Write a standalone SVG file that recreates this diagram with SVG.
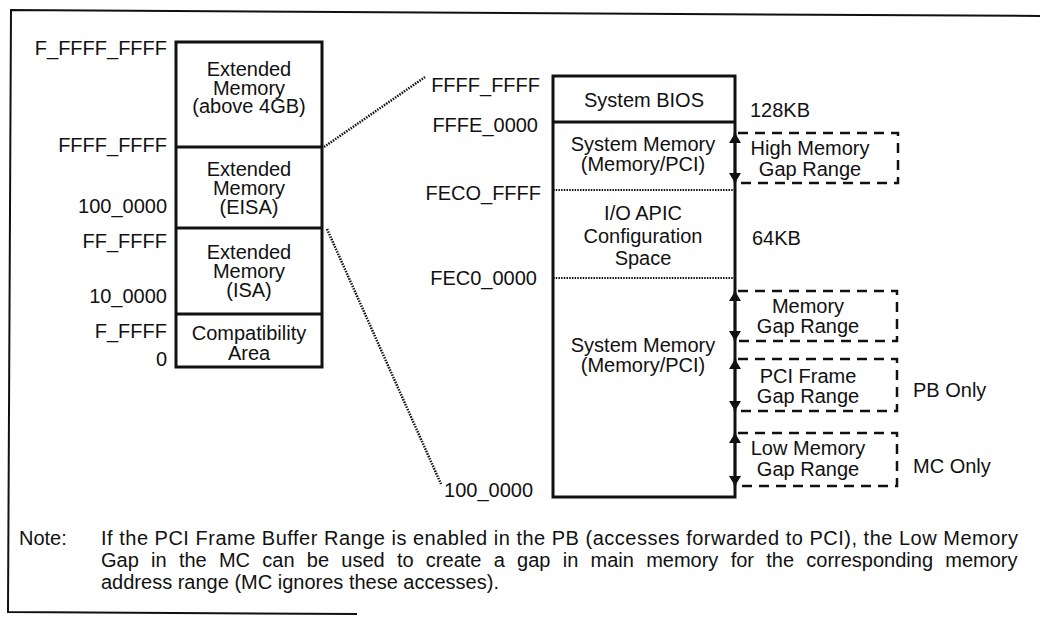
<svg xmlns="http://www.w3.org/2000/svg" width="1040" height="618" viewBox="0 0 1040 618">
<style>
text{font-family:"Liberation Sans",Arial,Helvetica,sans-serif;font-size:20px;fill:#111}
.m{text-anchor:middle}
.e{text-anchor:end}
.box{fill:none;stroke:#111;stroke-width:3}
.dv{stroke:#111;stroke-width:3}
.dot{stroke:#111;stroke-width:2;stroke-dasharray:1.5 1.2;fill:none}
.con{stroke:#111;stroke-width:2.5;stroke-dasharray:1.5 1.2;fill:none}
.dash{fill:none;stroke:#111;stroke-width:2.5;stroke-dasharray:10 7}
.arr{stroke:#111;stroke-width:2.5;marker-start:url(#ah);marker-end:url(#ah)}
.frame{stroke:#111;stroke-width:2;fill:none}
</style>
<defs>
<marker id="ah" viewBox="0 0 10 12" refX="10" refY="6" markerWidth="10" markerHeight="12" orient="auto-start-reverse" markerUnits="userSpaceOnUse">
<path d="M0,0 L10,6 L0,12 z" fill="#111"/>
</marker>
</defs>
<polyline class="frame" points="1040,16 11,10 8,612 357,614"/>

<g id="left-map">
<rect class="box" x="176" y="42" width="146" height="325"/>
<line class="dv" x1="176" y1="147" x2="322" y2="147"/>
<line class="dv" x1="176" y1="228" x2="322" y2="228"/>
<line class="dv" x1="176" y1="314" x2="322" y2="314"/>
</g>
<g id="left-labels">
<text class="e" x="167" y="55">F_FFFF_FFFF</text>
<text class="e" x="167" y="152">FFFF_FFFF</text>
<text class="e" x="167" y="213">100_0000</text>
<text class="e" x="167" y="248">FF_FFFF</text>
<text class="e" x="167" y="303">10_0000</text>
<text class="e" x="167" y="338">F_FFFF</text>
<text class="e" x="167" y="366">0</text>
</g>
<g id="ext-above-4gb">
<text class="m" x="249" y="76">Extended</text>
<text class="m" x="249" y="95">Memory</text>
<text class="m" x="249" y="113">(above 4GB)</text>
</g>
<g id="ext-eisa">
<text class="m" x="249" y="176">Extended</text>
<text class="m" x="249" y="195">Memory</text>
<text class="m" x="249" y="214">(EISA)</text>
</g>
<g id="ext-isa">
<text class="m" x="249" y="259">Extended</text>
<text class="m" x="249" y="278">Memory</text>
<text class="m" x="249" y="297">(ISA)</text>
</g>
<g id="compat">
<text class="m" x="249" y="340">Compatibility</text>
<text class="m" x="249" y="360">Area</text>
</g>

<g id="right-map">
<rect class="box" x="553" y="76" width="182" height="421"/>
<line class="dv" x1="553" y1="122" x2="735" y2="122"/>
<line class="dot" x1="553" y1="190" x2="735" y2="190"/>
<line class="dot" x1="553" y1="278" x2="735" y2="278"/>
</g>
<g id="right-labels">
<text class="e" x="540" y="92">FFFF_FFFF</text>
<text class="e" x="538" y="132">FFFE_0000</text>
<text class="e" x="541" y="200">FECO_FFFF</text>
<text class="e" x="537" y="285">FEC0_0000</text>
<text class="e" x="533" y="497">100_0000</text>
</g>
<g id="system-bios">
<text class="m" x="644" y="107">System BIOS</text>
<text x="750" y="117">128KB</text>
</g>
<g id="sys-mem-high">
<text class="m" x="643" y="151">System Memory</text>
<text class="m" x="643" y="171">(Memory/PCI)</text>
</g>
<g id="io-apic">
<text class="m" x="643" y="220">I/O APIC</text>
<text class="m" x="643" y="243">Configuration</text>
<text class="m" x="643" y="265">Space</text>
<text x="752" y="245">64KB</text>
</g>
<g id="sys-mem-low">
<text class="m" x="643" y="352">System Memory</text>
<text class="m" x="643" y="372">(Memory/PCI)</text>
</g>

<g id="high-gap">
<polyline class="dash" points="738,133 898,133 898,183 738,183"/>
<text class="m" x="810" y="155">High Memory</text>
<text class="m" x="810" y="176">Gap Range</text>
</g>
<g id="mem-gap">
<polyline class="dash" points="738,291 897,291 897,341 738,341"/>
<text class="m" x="808" y="313">Memory</text>
<text class="m" x="808" y="333">Gap Range</text>
</g>
<g id="pci-gap">
<polyline class="dash" points="738,359 897,359 897,411 738,411"/>
<text class="m" x="808" y="383">PCI Frame</text>
<text class="m" x="808" y="403">Gap Range</text>
<text x="913" y="397">PB Only</text>
</g>
<g id="low-gap">
<polyline class="dash" points="738,433 897,433 897,486 738,486"/>
<text class="m" x="808" y="455">Low Memory</text>
<text class="m" x="808" y="476">Gap Range</text>
<text x="913" y="473">MC Only</text>
</g>

<g id="connectors">
<line class="con" x1="324" y1="147" x2="425" y2="77"/>
<line class="con" x1="327" y1="229" x2="441" y2="484"/>
<line class="arr" x1="735" y1="133" x2="735" y2="183"/>
<line class="arr" x1="735" y1="291" x2="735" y2="341"/>
<line class="arr" x1="735" y1="359" x2="735" y2="411"/>
<line class="arr" x1="735" y1="433" x2="735" y2="486"/>
</g>

<g id="note">
<text x="19" y="545">Note:</text>
<text x="101" y="545" textLength="917" lengthAdjust="spacing">If the PCI Frame Buffer Range is enabled in the PB (accesses forwarded to PCI), the Low Memory</text>
<text x="101" y="567" style="word-spacing:6.7px">Gap in the MC can be used to create a gap in main memory for the corresponding memory</text>
<text x="101" y="589">address range (MC ignores these accesses).</text>
</g>
</svg>
